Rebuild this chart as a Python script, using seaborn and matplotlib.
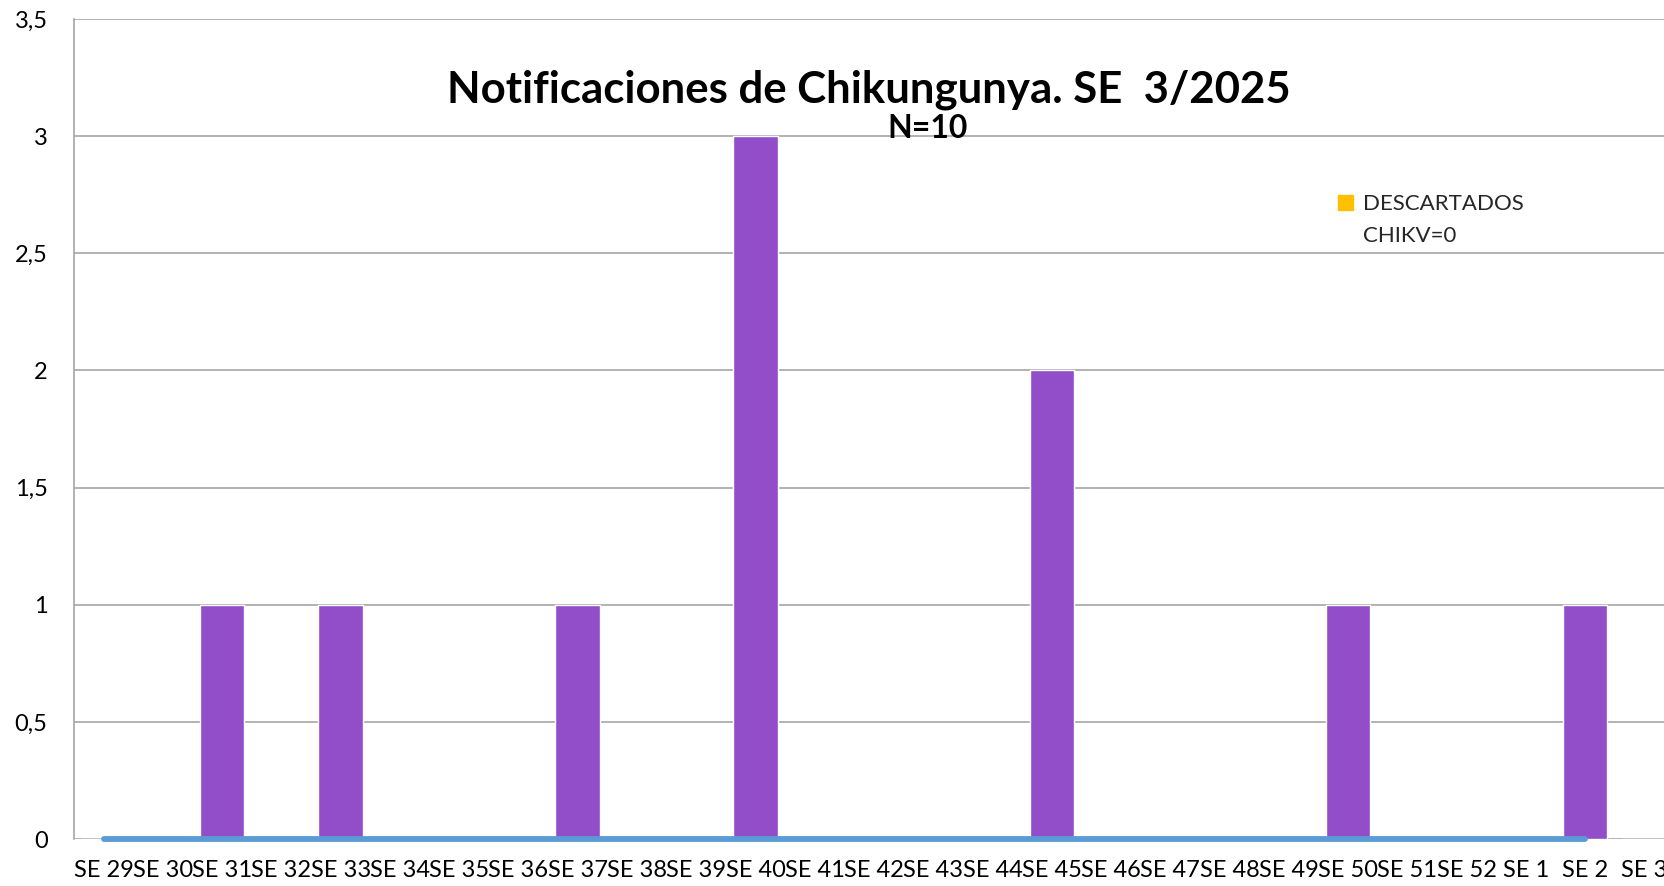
import matplotlib
matplotlib.use("Agg")
import matplotlib.pyplot as plt
import seaborn as sns
import pandas as pd
from matplotlib.patches import Patch
from matplotlib.ticker import FuncFormatter

# semanas epidemiologicas SE 29/2024 .. SE 3/2025
semanas = ['SE 29', 'SE 30', 'SE 31', 'SE 32', 'SE 33', 'SE 34', 'SE 35', 'SE 36',
           'SE 37', 'SE 38', 'SE 39', 'SE 40', 'SE 41', 'SE 42', 'SE 43', 'SE 44',
           'SE 45', 'SE 46', 'SE 47', 'SE 48', 'SE 49', 'SE 50', 'SE 51', 'SE 52',
           'SE 1', 'SE 2', 'SE 3']
notificados = [0, 0, 1, 0, 1, 0, 0, 0, 1, 0, 0, 3, 0, 0, 0, 0, 2, 0, 0, 0, 0, 1, 0, 0, 0, 1, 0]
# linea azul en cero (hasta SE 2)
linea_cero = [0] * 26
descartados_label = "DESCARTADOS"
descartados_label2 = "CHIKV=0"

df = pd.DataFrame({'semana': semanas, 'casos': notificados})

sns.set_style("white")
plt.rcParams['font.family'] = ['Lato', 'DejaVu Sans']

fig = plt.figure(figsize=(16.65, 8.86), dpi=100)
ax = fig.add_axes([74 / 1665, 47 / 886, 1600 / 1665, 820 / 886])

sns.barplot(data=df, x='semana', y='casos', color='#924DC8', width=0.75,
            saturation=1, ax=ax, zorder=2)
ax.plot(range(len(linea_cero)), linea_cero, color='#5B9BD5', lw=4.2,
        solid_capstyle='round', zorder=3, clip_on=False)

ax.set_xlim(-0.5, len(semanas) - 0.5)
ax.set_ylim(0, 3.5)
ax.set_yticks([0, 0.5, 1, 1.5, 2, 2.5, 3, 3.5])
ax.yaxis.set_major_formatter(FuncFormatter(lambda v, p: f"{v:g}".replace('.', ',')))
ax.grid(axis='y', color='#a6a6a6', lw=1.2, zorder=0)
ax.set_axisbelow(True)
for s in ['top', 'right', 'bottom']:
    ax.spines[s].set_visible(False)
ax.spines['left'].set_color('#a6a6a6')
ax.spines['left'].set_linewidth(1.2)
ax.tick_params(axis='both', length=0, labelsize=17, colors='black')
ax.tick_params(axis='y', pad=19)
ax.tick_params(axis='x', pad=15)
ax.set_xlabel('')
ax.set_ylabel('')

fig.text(869 / 1665, 1 - 90 / 886, "Notificaciones de Chikungunya. SE  3/2025",
         ha='center', va='center', fontsize=31.5, fontweight='bold', color='black')
fig.text(928 / 1665, 1 - 128 / 886, "N=10", ha='center', va='center',
         fontsize=23, fontweight='bold', color='black')

handles = [Patch(color='#FFC000', label=descartados_label)]
ax.legend(handles=handles, loc='center left', bbox_to_anchor=(1327 / 1665, 1 - 204 / 886),
          bbox_transform=fig.transFigure, frameon=False, fontsize=16, borderpad=0,
          handlelength=0.65, handleheight=0.65, handletextpad=0.45)
fig.text(1363 / 1665, 1 - 236 / 886, descartados_label2, ha='left', va='center',
         fontsize=16)

fig.savefig("out.png", dpi=100)
